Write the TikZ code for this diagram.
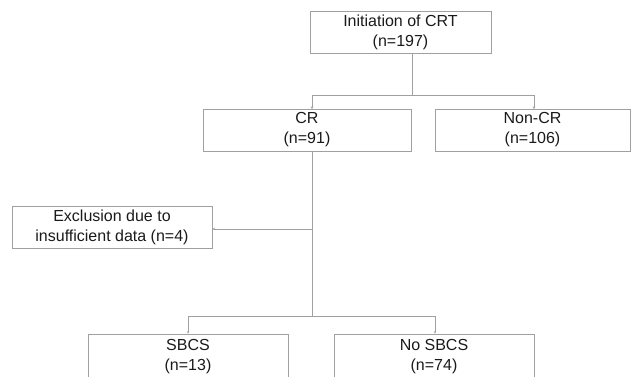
\documentclass[tikz,border=0pt]{standalone}
\usepackage{fontspec}
\setmainfont{Liberation Sans}
\usetikzlibrary{arrows.meta}
\definecolor{linegray}{HTML}{A0A0A0}
\definecolor{textgray}{HTML}{1A1A1A}
\begin{document}
\begin{tikzpicture}[
	x=1pt, y=-1pt,
	box/.style={rectangle,draw=linegray,line width=0.8pt,align=center,
		text=textgray,font=\fontsize{16}{20}\selectfont,
		minimum height=42pt,inner sep=0pt},
	line/.style={draw=linegray,line width=0.8pt},
	arrow/.style={line,-{Stealth[length=2.5pt,width=2.5pt]}},
	]
\useasboundingbox (0,0) rectangle (633,376);
\node [box,minimum width=181pt] (init) at (400.5,32) {Initiation of CRT\\(n=197)};
\node [box,minimum width=208pt] (cr) at (307,130) {CR\\(n=91)};
\node [box,minimum width=195pt] (noncr) at (532.5,130) {Non-CR\\(n=106)};
\node [box,minimum width=200pt] (excl) at (112,227) {Exclusion due to\\insufficient data (n=4)};
\node [box,minimum width=200pt,minimum height=46pt] (sbcs) at (188,357) {SBCS\\(n=13)};
\node [box,minimum width=200pt,minimum height=46pt] (nosbcs) at (434,357) {No SBCS\\(n=74)};
% split points
\coordinate (top) at (412,95);
\coordinate (mid) at (312,229);
\coordinate (low) at (312,316);
\draw [line] (top |- init.south) -- (top);
\draw [arrow] (top) -| (312,109);
\draw [arrow] (top) -| (534,109);
\draw [line] (mid |- cr.south) -- (low);
\draw [arrow] (mid) -- (mid -| excl.east);
\draw [arrow] (low) -| (sbcs.north);
\draw [arrow] (low) -| ([xshift=1pt]nosbcs.north);
\end{tikzpicture}
\end{document}
